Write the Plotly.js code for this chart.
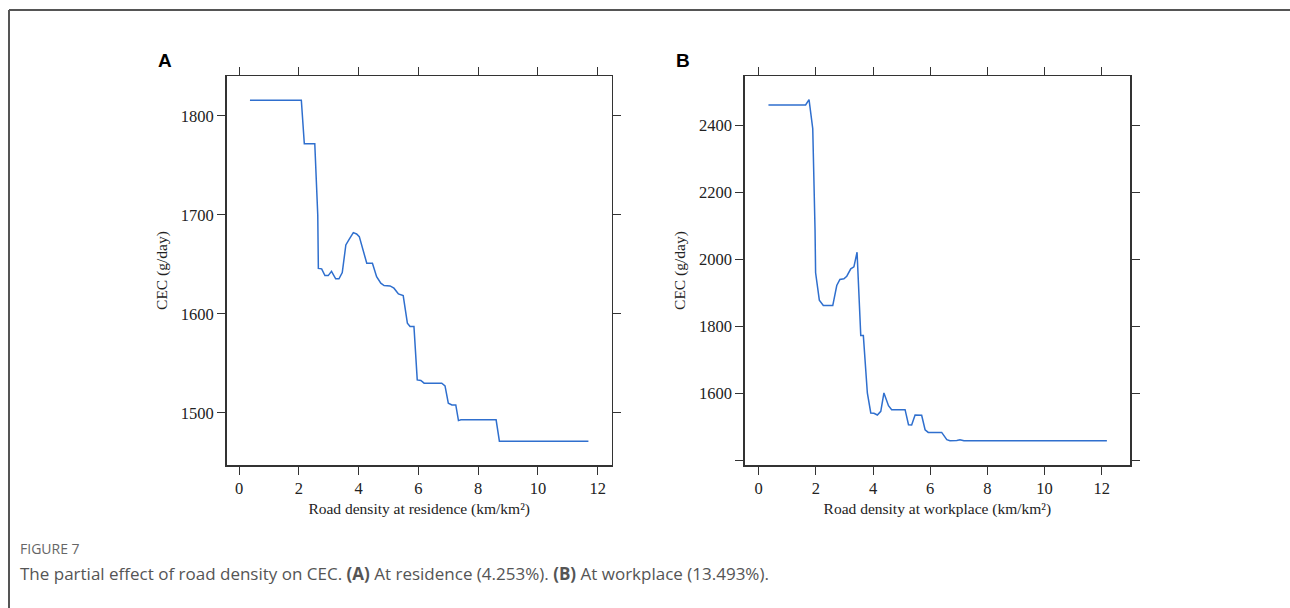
<!DOCTYPE html>
<html>
<head>
<meta charset="utf-8">
<script src="https://cdn.plot.ly/plotly-3.0.1.min.js"></script>
<style>html,body{margin:0;padding:0;background:#fff;}#chart{width:1290px;height:608px;}</style>
</head>
<body>
<div id="chart"></div>
<script>
// Panel A: road density at residence
var resX = [0.36, 2.08, 2.18, 2.53, 2.63, 2.65, 2.76, 2.87, 2.98, 3.09, 3.23, 3.34, 3.45, 3.57, 3.69, 3.82, 3.93, 4.02, 4.27, 4.46, 4.60, 4.74, 4.85, 5.05, 5.18, 5.33, 5.49, 5.63, 5.72, 5.85, 5.96, 6.08, 6.19, 6.78, 6.89, 7.00, 7.12, 7.25, 7.34, 7.42, 8.60, 8.71, 11.69];
var resY = [1816, 1816, 1772, 1772, 1700, 1646, 1645.5, 1638.7, 1638.7, 1643, 1635.4, 1635.4, 1641.7, 1669.7, 1675.8, 1682.1, 1680.8, 1678.1, 1651.2, 1651.2, 1637.7, 1631, 1628.6, 1628.3, 1626, 1620.2, 1618.5, 1590.6, 1587.2, 1587.2, 1533.3, 1532.7, 1530, 1530, 1527.3, 1509.8, 1508, 1508, 1492.2, 1493, 1493, 1471.4, 1471.4];
// Panel B: road density at workplace
var wrkX = [0.34, 1.64, 1.76, 1.89, 1.97, 1.99, 2.12, 2.26, 2.59, 2.73, 2.84, 2.98, 3.08, 3.22, 3.33, 3.44, 3.57, 3.66, 3.80, 3.92, 4.03, 4.15, 4.27, 4.38, 4.54, 4.65, 5.12, 5.24, 5.35, 5.47, 5.70, 5.82, 5.93, 6.40, 6.58, 6.69, 6.93, 7.04, 7.18, 12.18];
var wrkY = [2460.6, 2460.6, 2476.7, 2390, 2089.6, 1960.3, 1878.6, 1862.7, 1862.7, 1922.4, 1940.3, 1942.4, 1950.1, 1972.2, 1978.2, 2021.8, 1773.1, 1773.1, 1602.1, 1542.4, 1541.4, 1536.4, 1547.2, 1602.1, 1564.2, 1552.2, 1552.2, 1507.5, 1506.5, 1536.4, 1535.4, 1492.5, 1484.5, 1484.5, 1462.7, 1459.7, 1460.7, 1462.7, 1459.7, 1459.7];

var xTicks = [0, 2, 4, 6, 8, 10, 12];
var yTicksA = [1500, 1600, 1700, 1800];
var yTicksB = [1400, 1600, 1800, 2000, 2200, 2400];
var yTickTextB = ['', '1600', '1800', '2000', '2200', '2400'];

var lineColor = '#2f6fce';
var serif = 'Liberation Serif, Times New Roman, serif';

var traces = [
  {x: resX, y: resY, type: 'scatter', mode: 'lines', line: {color: lineColor, width: 1.5}, xaxis: 'x', yaxis: 'y', hoverinfo: 'x+y'},
  {x: wrkX, y: wrkY, type: 'scatter', mode: 'lines', line: {color: lineColor, width: 1.5}, xaxis: 'x2', yaxis: 'y2', hoverinfo: 'x+y'}
];

function axisBase() {
  return {
    showline: true, linecolor: '#333', linewidth: 1.5, mirror: 'ticks',
    ticks: 'outside', ticklen: 8, tickwidth: 1, tickcolor: '#333',
    showgrid: false, zeroline: false,
    tickfont: {family: serif, size: 16.5, color: '#222'}
  };
}

var xa = Object.assign(axisBase(), {domain: [0.1757, 0.4742], range: [-0.42, 12.47], tickmode: 'array', tickvals: xTicks, anchor: 'y',
  title: {text: 'Road density at residence (km/km²)', font: {family: serif, size: 15.5, color: '#222'}, standoff: 5}});
var ya = Object.assign(axisBase(), {domain: [0.235, 0.875], range: [1447.2, 1840.4], tickmode: 'array', tickvals: yTicksA, anchor: 'x',
  title: {text: 'CEC (g/day)', font: {family: serif, size: 15.5, color: '#222'}, standoff: 9}});
var xa2 = Object.assign(axisBase(), {domain: [0.5773, 0.876], range: [-0.49, 12.99], tickmode: 'array', tickvals: xTicks, anchor: 'y2',
  title: {text: 'Road density at workplace (km/km²)', font: {family: serif, size: 15.5, color: '#222'}, standoff: 5}});
var ya2 = Object.assign(axisBase(), {domain: [0.235, 0.875], range: [1387, 2547], tickmode: 'array', tickvals: yTicksB, ticktext: yTickTextB, anchor: 'x2',
  title: {text: 'CEC (g/day)', font: {family: serif, size: 15.5, color: '#222'}, standoff: 9}});

var layout = {
  width: 1290, height: 608,
  margin: {l: 0, r: 0, t: 0, b: 0},
  paper_bgcolor: '#fff', plot_bgcolor: '#fff',
  showlegend: false,
  xaxis: xa, yaxis: ya, xaxis2: xa2, yaxis2: ya2,
  shapes: [
    {type: 'line', xref: 'paper', yref: 'paper', x0: 9/1290, x1: 1, y0: 1 - 10/608, y1: 1 - 10/608, line: {color: '#555', width: 2}},
    {type: 'line', xref: 'paper', yref: 'paper', x0: 9/1290, x1: 9/1290, y0: 0, y1: 1 - 10/608, line: {color: '#555', width: 2}}
  ],
  annotations: [
    {text: '<b>A</b>', xref: 'paper', yref: 'paper', x: 165/1290, y: 1 - 60/608, xanchor: 'center', yanchor: 'middle', showarrow: false, font: {family: 'Liberation Sans, Arial, sans-serif', size: 19, color: '#000'}},
    {text: '<b>B</b>', xref: 'paper', yref: 'paper', x: 683/1290, y: 1 - 60/608, xanchor: 'center', yanchor: 'middle', showarrow: false, font: {family: 'Liberation Sans, Arial, sans-serif', size: 19, color: '#000'}},
    {text: 'FIGURE 7', xref: 'paper', yref: 'paper', x: 18/1290, y: 1 - 548/608, xanchor: 'left', yanchor: 'middle', showarrow: false, font: {family: 'Open Sans, Lato, sans-serif', size: 14, color: '#666'}},
    {text: 'The partial effect of road density on CEC. <b>(A)</b> At residence (4.253%). <b>(B)</b> At workplace (13.493%).', xref: 'paper', yref: 'paper', x: 18/1290, y: 1 - 573/608, xanchor: 'left', yanchor: 'middle', showarrow: false, font: {family: 'Open Sans, Lato, sans-serif', size: 17, color: '#555'}}
  ]
};

Plotly.newPlot('chart', traces, layout, {displayModeBar: false, staticPlot: true});
</script>
</body>
</html>
